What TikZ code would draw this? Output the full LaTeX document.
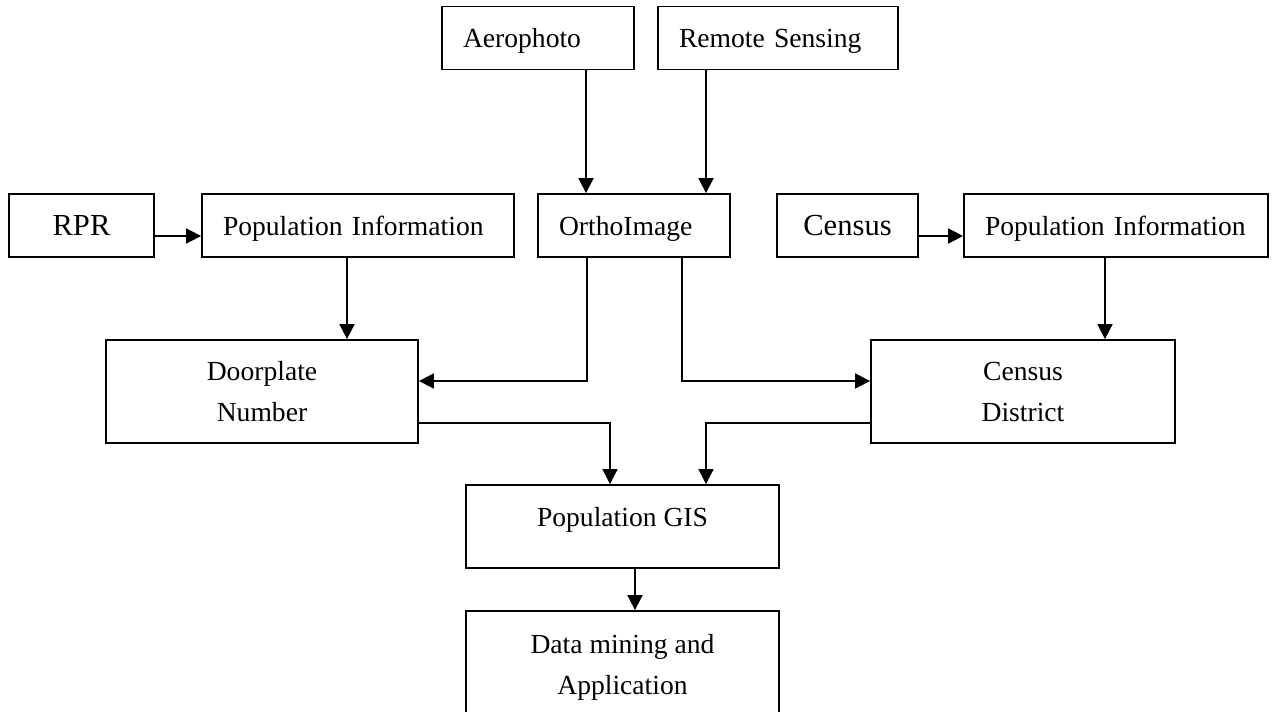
\documentclass[tikz,border=0pt]{standalone}
\usepackage{fontspec}
\setmainfont{Liberation Serif}
\usepackage{tikz}
\usetikzlibrary{arrows.meta}

\begin{document}
\begin{tikzpicture}[x=0.5pt, y=-0.5pt, line width=0.9pt, >={Triangle[length=7.5pt,width=7.5pt]}]
		\tikzstyle{box}=[draw=black, fill=white, inner ysep=0pt, font=\fontsize{13.8}{20.5}\selectfont]
		\tikzstyle{lbox}=[box, align=left, inner xsep=10.5pt, minimum height=31.5pt, text height=9.5pt, text depth=0pt]
		\tikzstyle{cbox}=[box, align=center, inner xsep=0pt, minimum height=31.5pt, font=\fontsize{15.3}{18}\selectfont]
		\tikzstyle{tbox}=[box, align=center, inner xsep=0pt]

		\useasboundingbox (0,0) rectangle (1287,712);

		% Image sources
		\node[lbox, text width=75pt] (aero) at (538,38) {Aerophoto};
		\node[lbox, text width=99pt] (remote) at (778,38) {Remote Sensing};

		% Second row
		\node[cbox, minimum width=72.5pt] (rpr) at (81.5,225.5) {RPR};
		\node[lbox, text width=135pt] (popl) at (358,225.5) {Population~Information};
		\node[lbox, text width=75pt] (ortho) at (634,225.5) {OrthoImage};
		\node[cbox, minimum width=70.5pt] (census) at (847.5,225.5) {Census};
		\node[lbox, text width=131pt] (popr) at (1116,225.5) {Population~Information};

		% Lower boxes
		\node[tbox, minimum width=156pt, minimum height=51.5pt] (door) at (262,391.5) {Doorplate \\ Number};
		\node[tbox, minimum width=152pt, minimum height=51.5pt] (cdist) at (1023,391.5) {Census \\ District};
		\node[tbox, minimum width=156.5pt, minimum height=41.5pt, text height=9.5pt, text depth=9.5pt] (gis) at (622.5,526.5) {Population GIS};
		\node[tbox, minimum width=156.5pt, minimum height=56pt] (mining) at (622.5,667) {Data mining and \\ Application};

		% Arrows
		\draw[->] ([xshift=24pt]aero.south) -- ([xshift=24pt]aero.south |- ortho.north);
		\draw[->] ([xshift=-36pt]remote.south) -- ([xshift=-36pt]remote.south |- ortho.north);
		\draw[->] ([yshift=-5.25pt]rpr.east) -- ([yshift=-5.25pt]rpr.east -| popl.west);
		\draw[->] ([yshift=-5.25pt]census.east) -- ([yshift=-5.25pt]census.east -| popr.west);
		\draw[->] ([xshift=-5.5pt]popl.south) -- ([xshift=-5.5pt]popl.south |- door.north);
		\draw[->] ([xshift=-5.5pt]popr.south) -- ([xshift=-5.5pt]popr.south |- cdist.north);
		\draw[->] ([xshift=-23.5pt]ortho.south) |- ([yshift=5.25pt]door.east);
		\draw[->] ([xshift=24pt]ortho.south) |- ([yshift=5.25pt]cdist.west);
		\draw[->] ([yshift=-15.75pt]door.east) -| ([xshift=-6.25pt]gis.north);
		\draw[->] ([yshift=-15.75pt]cdist.west) -| ([xshift=41.75pt]gis.north);
		\draw[->] ([xshift=6.25pt]gis.south) -- ([xshift=6.25pt]gis.south |- mining.north);

		\end{tikzpicture}
\end{document}
